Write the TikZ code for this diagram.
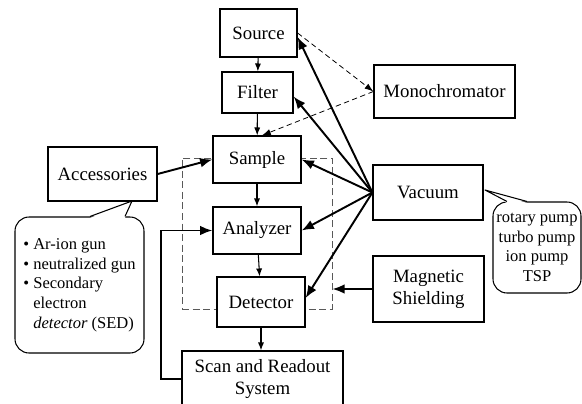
\documentclass[tikz,border=0pt]{standalone}
\usepackage{fontspec}
\setmainfont{Liberation Serif}
\usetikzlibrary{arrows.meta}

\tikzstyle{block}=[draw, fill=white, line width=0.7pt, inner sep=2pt, align=center, font=\fontsize{10.7}{12.5}\selectfont]
\tikzstyle{arrow}=[line width=1.1pt, -{Latex[length=7pt, width=5.5pt]}]
\tikzstyle{flow}=[line width=0.6pt, -{Latex[length=4.5pt, width=3.5pt]}]
\tikzstyle{optics}=[line width=0.45pt, dash pattern=on 3pt off 2pt, -{Latex[length=5pt, width=3.5pt]}]
\tikzstyle{note}=[draw, fill=white, line width=0.6pt, rounded corners=8pt, font=\fontsize{9.4}{11.2}\selectfont]
\tikzstyle{pointer}=[line width=0.6pt, line join=round]

\begin{document}
\begin{tikzpicture}[x=0.02cm, y=-0.02cm]
      \useasboundingbox (0, 0) rectangle (582, 403);

      % vacuum chamber, behind the blocks
      \node[draw, line width=0.5pt, gray!70!black, dash pattern=on 4pt off 2pt, minimum width=150*0.02cm, minimum height=151*0.02cm] (chamber) at (257, 233.5) {};

      \node[block, minimum width=77*0.02cm, minimum height=48*0.02cm] (src) at (258.5, 33) {Source};
      \node[block, minimum width=71*0.02cm, minimum height=41*0.02cm] (flt) at (257.5, 92.5) {Filter};
      \node[block, minimum width=88*0.02cm, minimum height=47*0.02cm] (smp) at (257, 159.5) {Sample};
      \node[block, minimum width=88*0.02cm, minimum height=47*0.02cm] (ana) at (257, 230.5) {Analyzer};
      \node[block, minimum width=88*0.02cm, minimum height=50*0.02cm] (det) at (261, 302) {Detector};
      \node[block, minimum width=161*0.02cm, minimum height=56*0.02cm] (scan) at (262.5, 379) {Scan and Readout\\System};
      \node[block, minimum width=141*0.02cm, minimum height=53*0.02cm] (mono) at (444.5, 91.5) {Monochromator};
      \node[block, minimum width=110*0.02cm, minimum height=55*0.02cm] (vac) at (428, 192.5) {Vacuum};
      \node[block, minimum width=111*0.02cm, minimum height=66*0.02cm] (mag) at (428.5, 289) {Magnetic\\Shielding};
      \node[block, minimum width=109*0.02cm, minimum height=54*0.02cm] (acc) at (102.5, 174) {Accessories};

      % callouts
      \node[note, minimum width=129*0.02cm, minimum height=136*0.02cm, align=left] (acclist) at (79.5, 285)
        {\textbullet\ Ar-ion gun\\ \textbullet\ neutralized gun\\ \textbullet\ Secondary\\ \hphantom{\textbullet\ }electron\\ \hphantom{\textbullet\ }\textit{detector} (SED)};
      \node[note, minimum width=88*0.02cm, minimum height=91*0.02cm, inner sep=1pt, align=center] (pumps) at (537, 247.5)
        {rotary pump\\turbo pump\\ion pump\\TSP};

      \coordinate (acctip) at (132, 201);
      \coordinate (vactip) at (485, 190);
      \fill[white] ([xshift=10.5*0.02cm, yshift=-1.5*0.02cm]acclist.north) -- (acctip) -- ([xshift=45.5*0.02cm, yshift=-1.5*0.02cm]acclist.north) -- cycle;
      \draw[pointer] ([xshift=10.5*0.02cm]acclist.north) -- (acctip) -- ([xshift=45.5*0.02cm]acclist.north);
      \fill[white] ([xshift=-30*0.02cm, yshift=-1.5*0.02cm]pumps.north) -- (vactip) -- ([xshift=-10*0.02cm, yshift=-1.5*0.02cm]pumps.north) -- cycle;
      \draw[pointer] ([xshift=-30*0.02cm]pumps.north) -- (vactip) -- ([xshift=-10*0.02cm]pumps.north);

      \draw[flow] (src) -- (flt);
      \draw[flow] (flt) -- (smp);
      \draw[flow] (smp) -- (ana);
      \draw[flow] (ana) -- (det);
      \draw[flow] (det) -- (det |- scan.north);

      \draw[optics] (src.east) -- (mono.west);
      \draw[optics] (mono.west) -- ([xshift=5*0.02cm]smp.north);

      \draw[arrow] (vac.west) -- ([yshift=-4*0.02cm]src.east);
      \draw[arrow] (vac.west) -- ([yshift=-4*0.02cm]flt.east);
      \draw[arrow] (vac.west) -- (smp.east);
      \draw[arrow] (vac.west) -- (ana.east);
      \draw[arrow] (vac.west) -- ([yshift=4*0.02cm]det.east);
      \draw[arrow] (mag.west) -- (mag.west -| chamber.east);
      \draw[arrow] (acc.east) -- (smp.west);
      \draw[arrow] (scan.west) -- ++(-20, 0) |- (ana.west);
    \end{tikzpicture}
\end{document}
